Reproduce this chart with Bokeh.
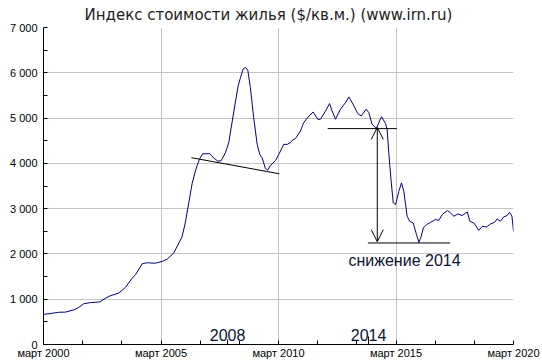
from bokeh.plotting import figure
from bokeh.models import FixedTicker, Label, Arrow, OpenHead, LinearAxis
from bokeh.embed import file_html
from bokeh.resources import INLINE

# ---- data (decimal year, $/m2) ----
years = [2000.17, 2000.54, 2000.82, 2001.10, 2001.46, 2001.67, 2001.88, 2002.17, 2002.56, 2002.80,
         2003.00, 2003.37, 2003.66, 2003.94, 2004.08, 2004.37, 2004.58, 2004.93, 2005.22, 2005.43,
         2005.71, 2006.06, 2006.20, 2006.35, 2006.49, 2006.63, 2006.71, 2006.82, 2006.94, 2007.24,
         2007.41, 2007.58, 2007.73, 2007.91, 2008.05, 2008.20, 2008.34, 2008.45, 2008.55, 2008.66,
         2008.76, 2008.86, 2008.97, 2009.11, 2009.26, 2009.37, 2009.47, 2009.61, 2009.71, 2009.82,
         2010.04, 2010.18, 2010.39, 2010.54, 2010.68, 2010.75, 2010.89, 2011.10, 2011.24, 2011.46,
         2011.64, 2011.84, 2011.95, 2012.17, 2012.34, 2012.45, 2012.59, 2012.80, 2013.02, 2013.16,
         2013.34, 2013.54, 2013.68, 2013.90, 2014.01, 2014.15, 2014.33, 2014.55, 2014.72, 2014.79,
         2014.86, 2014.96, 2015.05, 2015.15, 2015.29, 2015.40, 2015.50, 2015.64, 2015.75, 2015.90,
         2016.04, 2016.14, 2016.24, 2016.33, 2016.47, 2016.64, 2016.85, 2016.99, 2017.13, 2017.35,
         2017.49, 2017.63, 2017.80, 2017.98, 2018.20, 2018.31, 2018.48, 2018.69, 2018.84, 2019.02,
         2019.19, 2019.36, 2019.47, 2019.61, 2019.75, 2019.89, 2020.00, 2020.10, 2020.17]
values = [665, 690, 712, 715, 765, 820, 900, 925, 940, 1020,
          1075, 1135, 1265, 1465, 1540, 1785, 1805, 1795, 1835, 1885,
          2020, 2375, 2685, 3130, 3550, 3830, 3960, 4110, 4210, 4215,
          4120, 4050, 4060, 4235, 4457, 4935, 5378, 5710, 5896, 6080,
          6118, 6058, 5675, 5010, 4419, 4198, 4124, 3887, 3850, 3950,
          4064, 4198, 4419, 4419, 4460, 4508, 4550, 4714, 4899, 5046,
          5135, 4973, 4973, 5157, 5320, 5157, 4973, 5194, 5342, 5467,
          5305, 5099, 5046, 5194, 5121, 4862, 4770, 5032, 4880, 4751,
          4235, 3606, 3127, 3090, 3385, 3570, 3385, 2831, 2720, 2684,
          2425, 2255, 2388, 2574, 2647, 2698, 2758, 2742, 2868, 2957,
          2906, 2831, 2884, 2846, 2928, 2720, 2684, 2521, 2610, 2596,
          2662, 2698, 2773, 2720, 2817, 2846, 2920, 2831, 2499]

title_text = "Индекс стоимости жилья ($/кв.м.) (www.irn.ru)"

x_ticks = [2000.167, 2005.167, 2010.167, 2015.167, 2020.167]
x_tick_labels = ["март 2000", "март 2005", "март 2010", "март 2015", "март 2020"]
x_minor_ticks = [2001.833, 2003.5, 2006.833, 2008.5, 2011.833, 2013.5, 2016.833, 2018.5]
y_ticks = [0, 1000, 2000, 3000, 4000, 5000, 6000, 7000]
y_tick_labels = ["0", "1 000", "2 000", "3 000", "4 000", "5 000", "6 000", "7 000"]
y_minor_ticks = [500, 1500, 2500, 3500, 4500, 5500, 6500]

# ---- annotations ----
mark_years = [2008.0, 2014.0]
mark_labels = ["2008", "2014"]
mark_tick_in = [5, 8]
mark_tick_out = [7, 11]
mark_label_y = 220
seg_x0 = [2006.46, 2012.26, 2013.97]
seg_y0 = [4125, 4767, 2242]
seg_x1 = [2010.20, 2015.20, 2017.47]
seg_y1 = [3770, 4767, 2242]
arrow_x = 2014.37
arrow_top = 4795
arrow_bottom = 2270
drop_label = "снижение 2014"
drop_label_x = 2015.53
drop_label_y = 1856

TXT = "#0a1433"

p = figure(width=542, height=364, output_backend="svg", toolbar_location=None,
           x_range=(x_ticks[0], x_ticks[-1]), y_range=(0, 7000),
           min_border_left=43, min_border_right=29, min_border_top=27, min_border_bottom=20,
           title=title_text)
p.outline_line_color = None
p.background_fill_color = "white"
p.border_fill_color = "white"

p.title.text_font = "DejaVu Sans"
p.title.text_font_size = "15px"
p.title.text_font_style = "normal"
p.title.text_color = "#222222"
p.title.align = "left"
p.title.offset = 41
p.title.standoff = 7

p.xaxis.ticker = FixedTicker(ticks=x_ticks, minor_ticks=x_minor_ticks)
p.xaxis.major_label_overrides = {t: l for t, l in zip(x_ticks, x_tick_labels)}
p.yaxis.ticker = FixedTicker(ticks=y_ticks, minor_ticks=y_minor_ticks)
p.yaxis.major_label_overrides = {t: l for t, l in zip(y_ticks, y_tick_labels)}

for ax in (p.xaxis, p.yaxis):
    ax.axis_line_color = "black"
    ax.major_tick_line_color = "black"
    ax.minor_tick_line_color = "black"
    ax.major_tick_in = 4
    ax.major_tick_out = 0
    ax.minor_tick_in = 4
    ax.minor_tick_out = 0
    ax.major_label_text_font = "Liberation Sans"
    ax.major_label_text_font_size = "11px"
    ax.major_label_text_color = "black"
p.xaxis.major_label_standoff = 2
p.yaxis.major_label_standoff = 6

p.xgrid.ticker = FixedTicker(ticks=x_ticks)
p.ygrid.ticker = FixedTicker(ticks=y_ticks)
p.grid.grid_line_color = "#c4c4c4"
p.grid.grid_line_width = 1

p.line(years, values, line_color="#000080", line_width=1)

p.segment(x0=seg_x0, y0=seg_y0, x1=seg_x1, y1=seg_y1, line_color="black", line_width=1)

p.add_layout(Arrow(x_start=arrow_x, y_start=arrow_bottom, x_end=arrow_x, y_end=arrow_top,
                   start=OpenHead(size=12, line_width=1, line_color="black"),
                   end=OpenHead(size=12, line_width=1, line_color="black"),
                   line_color="black", line_width=1))

# year marks crossing the x axis: extra tick-only axes fixed at y=0
for mx, tin, tout in zip(mark_years, mark_tick_in, mark_tick_out):
    mark_axis = LinearAxis(ticker=FixedTicker(ticks=[mx], minor_ticks=[]), fixed_location=0,
                           axis_line_color=None, major_tick_line_color="black",
                           major_tick_in=tin, major_tick_out=tout,
                           minor_tick_line_color=None, major_label_text_font_size="0px",
                           major_label_text_color=None, major_label_standoff=0)
    p.add_layout(mark_axis, "below")

for mx, ml in zip(mark_years, mark_labels):
    p.add_layout(Label(x=mx, y=mark_label_y, text=ml, text_align="center",
                       text_baseline="alphabetic", text_font="Liberation Sans",
                       text_font_size="16px", text_color=TXT))

p.add_layout(Label(x=drop_label_x, y=drop_label_y, text=drop_label, text_align="center",
                   text_baseline="middle", text_font="Liberation Sans", text_font_size="16px",
                   text_color=TXT))

open("out.html", "w").write(file_html(p, INLINE))
